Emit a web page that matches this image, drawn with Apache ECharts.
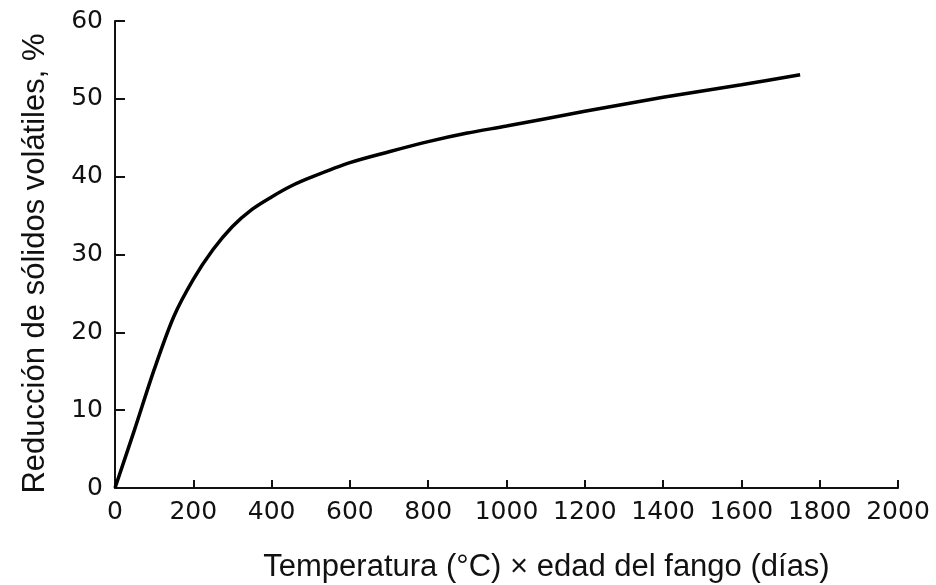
<!DOCTYPE html>
<html>
<head>
<meta charset="utf-8">
<script src="https://cdn.jsdelivr.net/npm/echarts@6/dist/echarts.min.js"></script>
<style>
  html, body { margin: 0; padding: 0; background: #fff; }
  #chart { width: 936px; height: 585px; }
</style>
</head>
<body>
<div id="chart"></div>
<script>
// curve: temperatura x edad (x) vs reduccion (y, %)
var xVals = [0, 50, 100, 150, 200, 250, 300, 350, 400, 450, 500, 600, 700, 800, 900, 1000, 1200, 1400, 1600, 1750];
var yVals = [0, 7.5, 15.2, 22.0, 26.8, 30.6, 33.6, 35.8, 37.4, 38.8, 39.9, 41.8, 43.2, 44.5, 45.6, 46.5, 48.4, 50.2, 51.8, 53.1];
var xTicks = [0, 200, 400, 600, 800, 1000, 1200, 1400, 1600, 1800, 2000];
var yTicks = [0, 10, 20, 30, 40, 50, 60];

var curve = [];
for (var i = 0; i < xVals.length; i++) {
	curve.push([xVals[i], yVals[i]]);
}

var chart = echarts.init(document.getElementById('chart'));
var tickFont = '"DejaVu Sans", sans-serif';
var titleFont = '"Liberation Sans", Arial, sans-serif';
var option = {
	animation: false,
	grid: {
		left: 115,
		right: 38,
		top: 21,
		bottom: 97,
		outerBoundsMode: 'none'
	},
	xAxis: {
		type: 'value',
		min: xTicks[0],
		max: xTicks[xTicks.length - 1],
		interval: 200,
		name: 'Temperatura (°C) × edad del fango (días)',
		nameLocation: 'middle',
		nameGap: 64,
		nameTextStyle: { color: '#111', fontSize: 31, fontFamily: titleFont, padding: [0, 0, 0, 80] },
		axisLine: { lineStyle: { color: '#111', width: 2 } },
		axisTick: { inside: true, length: 8, lineStyle: { color: '#111', width: 2 } },
		axisLabel: {
			color: '#111', fontSize: 25, fontFamily: tickFont, margin: 12,
			formatter: function(v) { return String(v); }
		},
		splitLine: { show: false }
	},
	yAxis: {
		type: 'value',
		min: yTicks[0],
		max: yTicks[yTicks.length - 1],
		interval: 10,
		name: 'Reducción de sólidos volátiles, %',
		nameLocation: 'middle',
		nameGap: 64,
		nameTextStyle: { color: '#111', fontSize: 31, fontFamily: titleFont, padding: [0, 0, 0, -18] },
		axisLine: { lineStyle: { color: '#111', width: 2 } },
		axisTick: { inside: true, length: 10, lineStyle: { color: '#111', width: 2 } },
		axisLabel: { color: '#111', fontSize: 25, fontFamily: tickFont, margin: 12 },
		splitLine: { show: false }
	},
	series: [
		{
			type: 'line',
			data: curve,
			smooth: 0.3,
			showSymbol: false,
			lineStyle: { color: '#000', width: 3.5 }
		}
	]
};
chart.setOption(option);
</script>
</body>
</html>
